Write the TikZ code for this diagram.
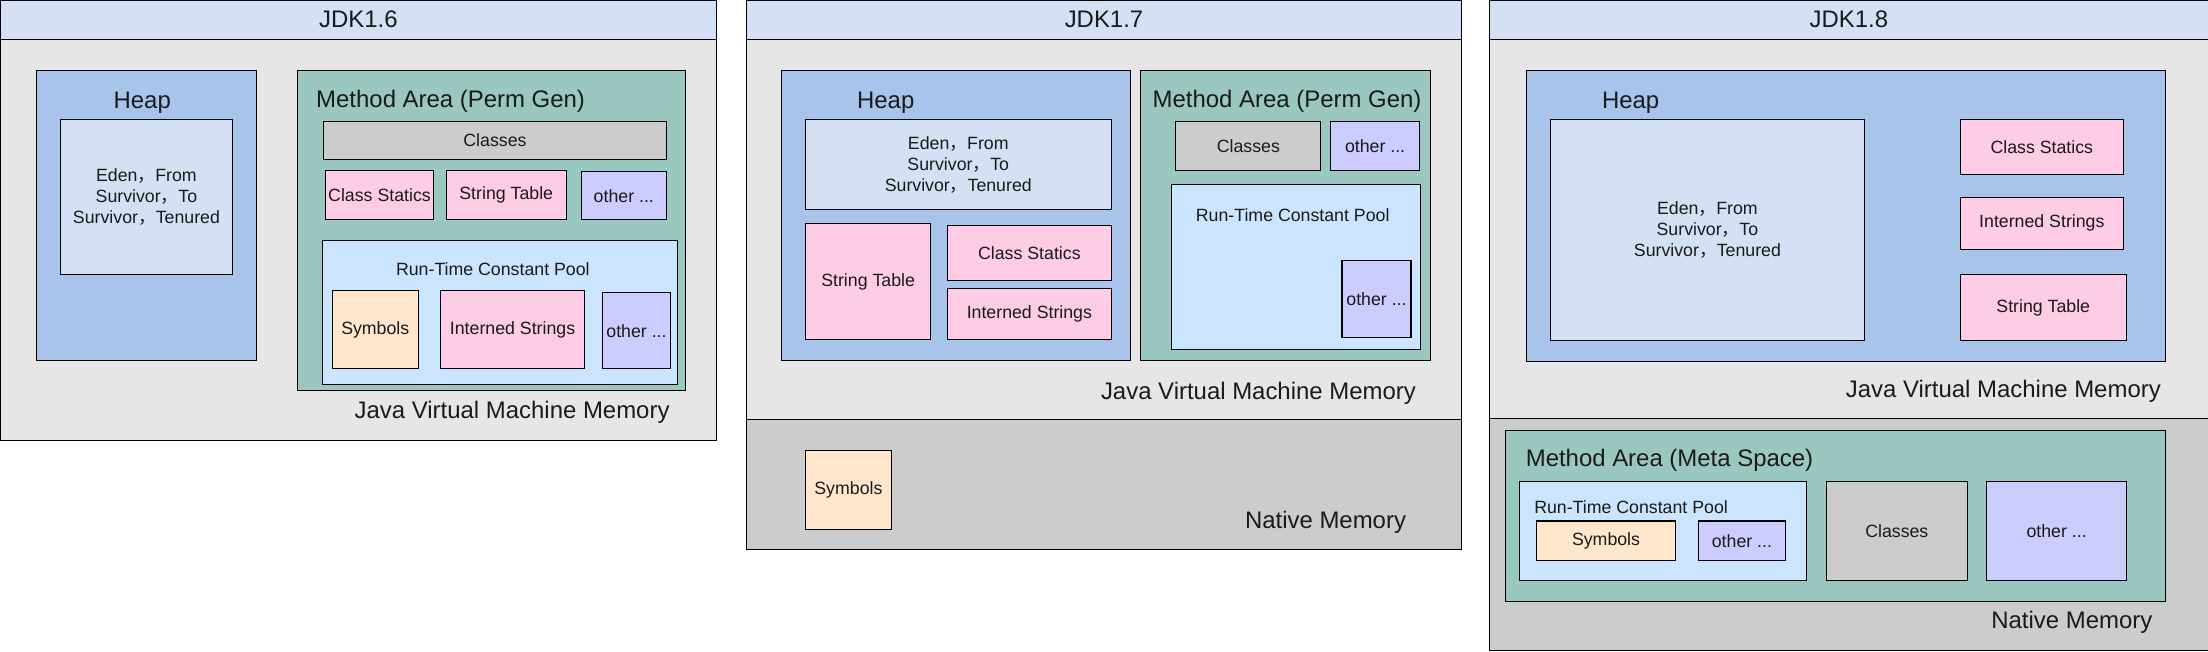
\documentclass[tikz,border=0pt]{standalone}
\usepackage{fontspec}
\setmainfont{Liberation Sans}
\newfontfamily\cjk{Noto Sans CJK SC}
\definecolor{ttl}{HTML}{D4E1F5}
\definecolor{body}{HTML}{E6E6E6}
\definecolor{native}{HTML}{CCCCCC}
\definecolor{heap}{HTML}{A9C4EB}
\definecolor{eden}{HTML}{D4E1F5}
\definecolor{meth}{HTML}{9AC7BF}
\definecolor{cls}{HTML}{CCCCCC}
\definecolor{pink}{HTML}{FFCCE6}
\definecolor{oth}{HTML}{CCCCFF}
\definecolor{pool}{HTML}{CCE5FF}
\definecolor{sym}{HTML}{FFE6CC}
\definecolor{txt}{HTML}{1A1A1A}
\tikzset{
  bx/.style={draw=black, line width=0.75pt, inner sep=0pt, outer sep=0pt, align=center, text=txt, font=\fontsize{12.6}{15}\selectfont},
  big/.style={text=txt, font=\fontsize{17}{20}\selectfont},
  sm/.style={text=txt, font=\fontsize{12.6}{15}\selectfont},
}
\newcommand\rbox[7]{\node[bx,#1,minimum width={#5-#3},minimum height={#6-#4}] (#2) at ({(#3+#5)/2},{(#4+#6)/2}) {#7};}
\newcommand\edentext{Eden{\cjk ，}From\\Survivor{\cjk ，}To\\Survivor{\cjk ，}Tenured}
\begin{document}
\begin{tikzpicture}[x=1pt,y=-1pt]
\useasboundingbox (0,0) rectangle (1568,463);
% ---------- JDK1.6 ----------
\rbox{fill=body}{a-body}{0}{28}{509}{313}{}
\rbox{fill=ttl,big}{a-title}{0}{0}{509}{28}{\raisebox{-1pt}{JDK1.6}}
\rbox{fill=heap}{a-heap}{26}{50}{182}{256}{}
\node[big] (a-heapl) at (101,73) {Heap};
\rbox{fill=eden}{a-eden}{43}{85}{165}{195}{\edentext}
\rbox{fill=meth}{a-meth}{211}{50}{487}{277}{}
\node[big] (a-methl) at (320,72) {Method Area (Perm Gen)};
\rbox{fill=cls}{a-cls}{230}{86}{473}{113}{Classes}
\rbox{fill=pink}{a-cs}{231}{121}{308}{156}{Class Statics}
\rbox{fill=pink}{a-st}{317}{121}{402}{156}{String Table}
\rbox{fill=oth}{a-oth}{413}{122}{473}{156}{other ...}
\rbox{fill=pool}{a-pool}{229}{171}{481}{273}{}
\node[sm] (a-pooll) at (350,191) {Run-Time Constant Pool};
\rbox{fill=sym}{a-sym}{236}{206}{297}{262}{Symbols}
\rbox{fill=pink}{a-is}{313}{206}{415}{262}{Interned Strings}
\rbox{fill=oth}{a-oth2}{428}{208}{476}{262}{other ...}
\node[big,anchor=east] (a-jvm) at (479,293) {Java Virtual Machine Memory};
% ---------- JDK1.7 ----------
\rbox{fill=native}{b-native}{530}{298}{1038}{390}{}
\rbox{fill=body}{b-body}{530}{28}{1038}{298}{}
\rbox{fill=ttl,big}{b-title}{530}{0}{1038}{28}{\raisebox{-1pt}{JDK1.7}}
\rbox{fill=heap}{b-heap}{555}{50}{803}{256}{}
\node[big] (b-heapl) at (629,73) {Heap};
\rbox{fill=eden}{b-eden}{572}{85}{789}{149}{\edentext}
\rbox{fill=pink}{b-st}{572}{159}{661}{241}{String Table}
\rbox{fill=pink}{b-cs}{673}{160}{789}{199}{Class Statics}
\rbox{fill=pink}{b-is}{673}{205}{789}{241}{Interned Strings}
\rbox{fill=meth}{b-meth}{810}{50}{1016}{256}{}
\node[big] (b-methl) at (914,72) {Method Area (Perm Gen)};
\rbox{fill=cls}{b-cls}{835}{86}{938}{121}{Classes}
\rbox{fill=oth}{b-oth}{945}{86}{1008}{121}{other ...}
\rbox{fill=pool}{b-pool}{832}{131}{1009}{248}{}
\node[sm] (b-pooll) at (918,153) {Run-Time Constant Pool};
\rbox{fill=oth}{b-oth2}{953}{185}{1002}{240}{other ...}
\node[big,anchor=east] (b-jvm) at (1009,279) {Java Virtual Machine Memory};
\rbox{fill=sym}{b-sym}{572}{320}{633}{376}{Symbols}
\node[big,anchor=east] (b-nat) at (1002,371) {Native Memory};
% ---------- JDK1.8 ----------
\rbox{fill=native}{c-native}{1058}{297}{1568}{462}{}
\rbox{fill=body}{c-body}{1058}{28}{1568}{297}{}
\rbox{fill=ttl,big}{c-title}{1058}{0}{1568}{28}{\raisebox{-1pt}{JDK1.8}}
\rbox{fill=heap}{c-heap}{1084}{50}{1538}{257}{}
\node[big] (c-heapl) at (1158,73) {Heap};
\rbox{fill=eden}{c-eden}{1101}{85}{1324}{242}{\edentext}
\rbox{fill=pink}{c-cs}{1392}{85}{1508}{124}{Class Statics}
\rbox{fill=pink}{c-is}{1392}{140}{1508}{177}{Interned Strings}
\rbox{fill=pink}{c-st}{1392}{195}{1510}{242}{String Table}
\node[big,anchor=east] (c-jvm) at (1538,278) {Java Virtual Machine Memory};
\rbox{fill=meth}{c-meth}{1069}{306}{1538}{427}{}
\node[big,anchor=west] (c-methl) at (1080,327) {Method Area (Meta Space)};
\rbox{fill=pool}{c-pool}{1079}{342}{1283}{412}{}
\node[sm,anchor=west] (c-pooll) at (1086,360) {Run-Time Constant Pool};
\rbox{fill=sym}{c-sym}{1091}{370}{1190}{398}{Symbols}
\rbox{fill=oth}{c-oth}{1206}{370}{1268}{398}{other ...}
\rbox{fill=cls}{c-cls}{1297}{342}{1397}{412}{Classes}
\rbox{fill=oth}{c-oth2}{1411}{342}{1510}{412}{other ...}
\node[big,anchor=east] (c-nat) at (1532,442) {Native Memory};
\end{tikzpicture}
\end{document}
